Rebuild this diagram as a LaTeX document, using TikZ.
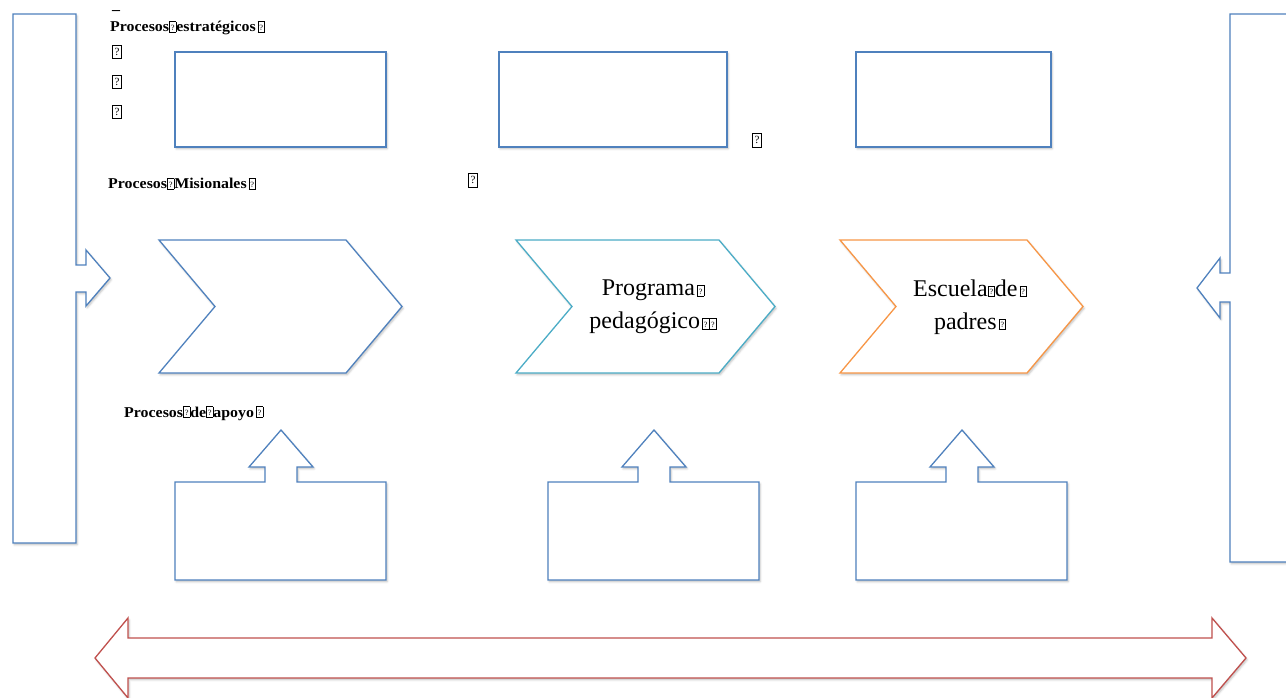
\documentclass[tikz,border=0pt]{standalone}
\usepackage{fontspec}
\setmainfont{Liberation Serif}
\newfontfamily\hdfont[FakeStretch=1.06]{Liberation Serif}
\usetikzlibrary{calc,shadows.blur}
\definecolor{oBlue}{RGB}{79,129,189}
\definecolor{oTeal}{RGB}{75,172,198}
\definecolor{oOrange}{RGB}{247,150,70}
\definecolor{oRed}{RGB}{192,80,77}
% missing-glyph boxes, as printed in the source
\newcommand{\nog}{{\fboxsep=0pt\fboxrule=0.6pt\fbox{\makebox[6pt]{\rule{0pt}{10pt}\raisebox{1.5pt}{\fontsize{8}{8}\selectfont\mdseries ?}}}}}
\newcommand{\bignog}{{\fboxsep=0pt\fboxrule=0.7pt\fbox{\makebox[8pt]{\rule{0pt}{13pt}\raisebox{2.5pt}{\fontsize{11}{11}\selectfont ?}}}}}
% chevron: left x, straight length, colour, name, text offset, text
\newcommand{\chev}[6]{%
  \draw[shp,draw=#3] (#1,240) -- ++(#2,0) -- ++(56,66.5) -- ++(-56,66.5) -- ++(-#2,0) -- ++(56,-66.5) -- cycle;
  \node[chtxt] (#4) at (#1+#5,307) {#6};}
\newcommand{\upcall}[1]{%
  \draw[shp] (#1,482) -- ++(90,0) -- ++(0,-15) -- ++(-16,0) -- ++(32,-37) -- ++(32,37) -- ++(-16,0)
    -- ++(0,15) -- ++(89,0) -- ++(0,98) -- ++(-211,0) -- cycle;}

\begin{document}
\begin{tikzpicture}[x=1pt,y=-1pt,
  shp/.style={draw=oBlue,fill=white,line width=1.3pt,line join=miter,
              blur shadow={shadow xshift=1.2pt,shadow yshift=-1.8pt,shadow blur radius=2pt,shadow opacity=25}},
  hd/.style={font=\fontsize{15}{17}\hdfont\bfseries,inner sep=0pt,anchor=base west},
  gl/.style={inner sep=0pt},
  chtxt/.style={align=center,font=\fontsize{24}{33}\selectfont,inner sep=0pt}]
\useasboundingbox (0,0) rectangle (1286,698);
% ---- side callouts
\draw[shp] (13,14) -- (76,14) -- (76,265) -- (86,265) -- (86,250) -- (110,278) -- (86,306) -- (86,292)
  -- (76,292) -- (76,543) -- (13,543) -- cycle;
\draw[shp] (1300,14) -- (1230,14) -- (1230,273) -- (1220,273) -- (1220,258) -- (1197,288) -- (1220,318)
  -- (1220,302) -- (1230,302) -- (1230,562) -- (1300,562) -- cycle;
% ---- strategic row
\draw[shp] (175,52) rectangle (386,147);
\draw[shp] (499,52) rectangle (727,147);
\draw[shp] (856,52) rectangle (1051,147);
% ---- mission row
\chev{159}{187}{oBlue}{c1}{130}{}
\chev{516}{203}{oTeal}{c2}{137}{Programa\hspace{2pt}\nog\\pedagógico\hspace{2pt}\nog\nog}
\chev{840}{187}{oOrange}{c3}{130}{Escuela\nog{}de\hspace{2pt}\nog\\padres\hspace{2pt}\nog}
% ---- support row
\upcall{175}
\upcall{548}
\upcall{856}
% ---- bottom double arrow
\draw[shp,draw=oRed] (95,658) -- (128,618) -- (128,638) -- (1212,638) -- (1212,618) -- (1246,658)
  -- (1212,698) -- (1212,678) -- (128,678) -- (128,698) -- cycle;
% ---- headings
\node[hd] (dash) at (112,10) {\smash{\_}};
\node[hd] (hstr) at (110,32) {Procesos\nog{}estratégicos\hspace{2pt}\nog};
\node[gl] (g1) at (117,52) {\bignog};
\node[gl] (g2) at (117,82) {\bignog};
\node[gl] (g3) at (117,112) {\bignog};
\node[hd] (hmis) at (108,189) {Procesos\nog{}Misionales\hspace{2pt}\nog};
\node[gl] (g4) at (473,180) {\bignog};
\node[gl] (g5) at (757,140) {\bignog};
\node[hd] (hapo) at (124,417) {Procesos\nog{}de\nog{}apoyo\hspace{2pt}\nog};
\end{tikzpicture}
\end{document}
